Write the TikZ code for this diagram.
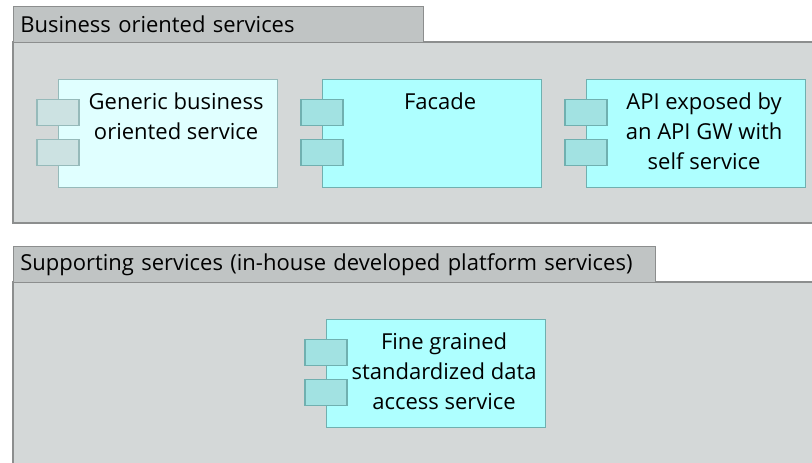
\documentclass[tikz,border=0pt]{standalone}
\usepackage{fontspec}
\setmainfont{Open Sans}
\usetikzlibrary{positioning}

\definecolor{groupfill}{RGB}{212,216,216}
\definecolor{tabfill}{RGB}{192,196,196}
\definecolor{groupline}{RGB}{140,142,142}
\definecolor{paleface}{RGB}{224,255,255}
\definecolor{paleline}{RGB}{150,186,186}
\definecolor{paleport}{RGB}{204,226,226}
\definecolor{cyanface}{RGB}{174,255,255}
\definecolor{cyanline}{RGB}{112,176,176}
\definecolor{cyanport}{RGB}{162,226,226}

\begin{document}
\begin{tikzpicture}[x=0.75pt,y=-0.75pt,
  groupbody/.style={draw=groupline,fill=groupfill,line width=0.9pt},
  grouptab/.style={draw=groupline,fill=tabfill,line width=0.9pt,anchor=north west,
    minimum height=27pt,inner xsep=5pt,align=left,
    font=\fontsize{16.5}{18}\selectfont},
  comp/.style={draw=cyanline,fill=cyanface,line width=0.9pt,anchor=north west,
    minimum width=164.25pt,minimum height=81pt,inner sep=0pt},
  port/.style={draw=cyanline,fill=cyanport,line width=0.9pt,anchor=north,
    minimum width=31.5pt,minimum height=19.5pt,inner sep=0pt},
  pale/.style={draw=paleline,fill=paleface},
  paleport/.style={draw=paleline,fill=paleport},
  comptext/.style={anchor=north,align=center,inner sep=0pt,
    font=\fontsize{16.5}{22.5}\selectfont}]
\useasboundingbox (0,0) rectangle (812,462);

% business oriented services
\draw[groupbody] (13,42) rectangle (820,223);
\node[grouptab,text width=297.5pt] (biztab) at (13,6) {Business oriented services};

\node[comp,pale] (generic) at (58,79) {};
\node[port,paleport] (generic-p1) at ([yshift=-15pt]generic.north west) {};
\node[port,paleport] (generic-p2) at ([yshift=-45pt]generic.north west) {};
\node[comptext] (generic-t) at ([xshift=6pt,yshift=-10pt]generic.north) {Generic business\\oriented service};

\node[comp] (facade) at (322,79) {};
\node[port] (facade-p1) at ([yshift=-15pt]facade.north west) {};
\node[port] (facade-p2) at ([yshift=-45pt]facade.north west) {};
\node[comptext] (facade-t) at ([xshift=6pt,yshift=-10pt]facade.north) {Facade};

\node[comp] (apigw) at (586,79) {};
\node[port] (apigw-p1) at ([yshift=-15pt]apigw.north west) {};
\node[port] (apigw-p2) at ([yshift=-45pt]apigw.north west) {};
\node[comptext] (apigw-t) at ([xshift=6pt,yshift=-10pt]apigw.north) {API exposed by\\an API GW with\\self service};

% supporting services
\draw[groupbody] (13,282) rectangle (820,470);
\node[grouptab,text width=471.5pt] (suptab) at (13,246) {Supporting services (in-house developed platform services)};

\node[comp] (dataacc) at (326,319) {};
\node[port] (dataacc-p1) at ([yshift=-15pt]dataacc.north west) {};
\node[port] (dataacc-p2) at ([yshift=-45pt]dataacc.north west) {};
\node[comptext] (dataacc-t) at ([xshift=6pt,yshift=-10pt]dataacc.north) {Fine grained\\standardized data\\access service};
\end{tikzpicture}
\end{document}
